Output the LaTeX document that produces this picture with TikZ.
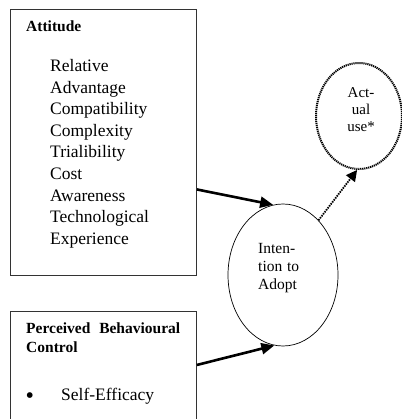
\documentclass[tikz,border=0pt]{standalone}
\usepackage{fontspec}
\setmainfont{Liberation Serif}
\usetikzlibrary{arrows.meta,shapes.geometric}
\begin{document}
\begin{tikzpicture}[x=1pt,y=-1pt,
  box/.style={draw=black!80, line width=0.9pt, rectangle, inner sep=0pt, anchor=north west},
  item/.style={anchor=base west, inner sep=0pt, font=\fontsize{17.5}{21}\selectfont},
  head/.style={anchor=base west, inner sep=0pt, font=\fontsize{15.5}{19}\selectfont\bfseries},
  etext/.style={anchor=base west, inner sep=0pt, font=\fontsize{15.5}{18}\selectfont},
  utext/.style={anchor=base, inner sep=0pt, font=\fontsize{15}{17}\selectfont},
  bigarrow/.style={line width=2.6pt, -{Triangle[length=13pt,width=11pt]}},
  dotarrow/.style={line width=1.8pt, dash pattern=on 1.5pt off 1pt, -{Triangle[length=11pt,width=11pt]}},
]
\useasboundingbox (0,0) rectangle (401,419);
% boxes
\node[box, minimum width=186pt, minimum height=266pt] (att) at (10,9) {};
\node[box, minimum width=186pt, minimum height=120pt] (pbc) at (10,311) {};
% ellipses
\node[draw, ellipse, line width=0.7pt, inner sep=0pt, minimum width=110pt, minimum height=142pt] (int) at (283,275) {};
\node[draw, ellipse, line width=2pt, dash pattern=on 1.2pt off 0.8pt, inner sep=0pt, minimum width=86pt, minimum height=106pt] (use) at (359,116) {};
% Attitude text
\node[head] (atth) at (26,32) {Attitude};
\foreach \t [count=\i] in {Relative,Advantage,Compatibility,Complexity,Trialibility,Cost,Awareness,Technological,Experience}
  \node[item] (a\i) at (50,{72+21.5*(\i-1)}) {\t};
% PBC text
\node[head] (pbch1) at (26,333) {\makebox[154pt][s]{Perceived Behavioural}};
\node[head] (pbch2) at (26,352) {Control};
\node[item, font=\fontsize{24}{24}\selectfont] (bul) at (25.5,403) {\textbullet};
\node[item] (se) at (61,400) {Self-Efficacy};
% Intention text
\node[etext] (i1) at (258,253) {Inten-};
\node[etext] (i2) at (258,271) {\makebox[41pt][s]{tion to}};
\node[etext] (i3) at (258,289) {Adopt};
% Actual use text
\node[utext] (u1) at (361,98) {Act-};
\node[utext] (u2) at (361,115) {ual};
\node[utext] (u3) at (361,132) {use*};
% arrows
\draw[bigarrow] ([yshift=-47pt]att.east) -- (int.98);
\draw[bigarrow] ([yshift=6.5pt]pbc.east) -- (int.263);
\draw[dotarrow] (int.57) -- (use.268);
\end{tikzpicture}
\end{document}
